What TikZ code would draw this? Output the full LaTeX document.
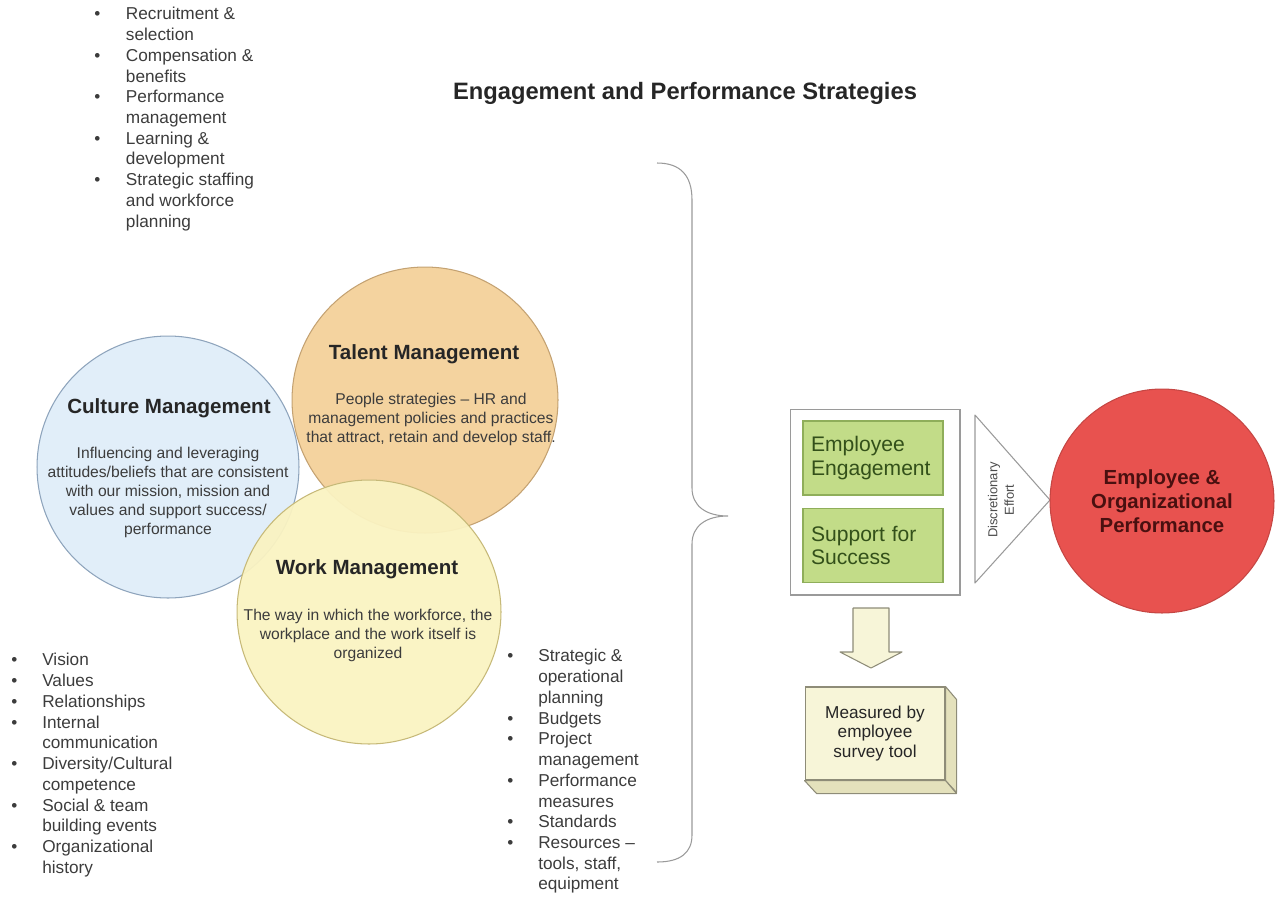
\documentclass[tikz,border=0pt]{standalone}
\usepackage{fontspec}
\setmainfont{Liberation Sans}
\usetikzlibrary{positioning,calc}
\definecolor{culturefill}{HTML}{E1EEF9}
\definecolor{culturedraw}{HTML}{8EA4BC}
\definecolor{talentfill}{HTML}{F4D39F}
\definecolor{talentdraw}{HTML}{C4A272}
\definecolor{workfill}{HTML}{FAF3C2}
\definecolor{workdraw}{HTML}{C6B978}
\definecolor{perffill}{HTML}{E8524F}
\definecolor{perftext}{HTML}{4A1010}
\definecolor{greenfill}{HTML}{C2DC88}
\definecolor{greendraw}{HTML}{8FAE5A}
\definecolor{greentext}{HTML}{33501A}
\definecolor{cubefill}{HTML}{F7F5D8}
\definecolor{cubeshade}{HTML}{E4E1BC}
\definecolor{cubedraw}{HTML}{8E8C78}
\definecolor{linegray}{HTML}{9A9A9A}
\definecolor{textgray}{HTML}{3C3C3C}
\tikzset{
  circ/.style={circle, line width=0.6pt, inner sep=0pt},
  circtitle/.style={font=\fontsize{11.7}{14}\selectfont\bfseries, text=black!85, inner sep=0pt},
  circbody/.style={font=\fontsize{8.9}{10.8}\selectfont, text=textgray, align=center, inner sep=0pt},
  bullets/.style={anchor=north west, inner sep=0pt, text=textgray, font=\fontsize{9.8}{11.8}\selectfont},
  greenbox/.style={draw=greendraw, fill=greenfill, line width=0.8pt, minimum width=2.8cm,
    minimum height=1.48cm, text width=2.48cm, inner xsep=0.16cm, align=left, text=greentext,
    font=\fontsize{12}{13.6}\selectfont},
  outerbox/.style={draw=linegray, fill=white, line width=0.6pt, minimum width=3.4cm, minimum height=3.72cm},
  cubefront/.style={draw=cubedraw, fill=cubefill, line width=0.6pt, minimum width=2.8cm,
    minimum height=1.86cm, align=center, text=black!85, font=\fontsize{9.8}{11.3}\selectfont},
  cubeside/.style={draw=cubedraw, fill=cubeshade, line width=0.6pt, line join=round},
  thinline/.style={draw=linegray, line width=0.6pt}
}
\begin{document}
\begin{tikzpicture}[x=0.02cm, y=-0.02cm]
    \useasboundingbox (0,0) rectangle (1280,896);

    \node[font=\fontsize{13.5}{16}\selectfont\bfseries, text=black!85] (title) at (685,93)
      {Engagement and Performance Strategies};

    % the three overlapping circles
    \node[circ, draw=talentdraw, fill=talentfill, minimum size=5.32cm] (talent) at (425,400) {};
    \node[circ, draw=culturedraw, fill=culturefill, minimum size=5.24cm] (culture) at (168,467) {};
    \node[circ, draw=workdraw, fill=workfill, fill opacity=0.95, minimum size=5.28cm] (work) at (369,612) {};

    \node[circtitle] (talenttitle) at (424,354) {Talent Management};
    \node[circbody]  (talentbody)  at (431,419)
      {People strategies – HR and\\management policies and practices\\that attract, retain and develop staff.};
    \node[circtitle] (culturetitle) at (169,408) {Culture Management};
    \node[circbody]  (culturebody)  at (168,492)
      {Influencing and leveraging\\attitudes/beliefs that are consistent\\with our mission, mission and\\values and support success/\\performance};
    \node[circtitle] (worktitle) at (367,569) {Work Management};
    \node[circbody]  (workbody)  at (368,635)
      {The way in which the workforce, the\\workplace and the work itself is\\organized};

    % bullet lists
    \node[bullets] (talentlist) at (94,5) {\begin{tabular}{@{}p{18pt}@{}l@{}}
      \textbullet & Recruitment \& \\ & selection \\
      \textbullet & Compensation \& \\ & benefits \\
      \textbullet & Performance \\ & management \\
      \textbullet & Learning \& \\ & development \\
      \textbullet & Strategic staffing \\ & and workforce \\ & planning
    \end{tabular}};
    \node[bullets] (culturelist) at (11,651) {\begin{tabular}{@{}p{17.6pt}@{}l@{}}
      \textbullet & Vision \\
      \textbullet & Values \\
      \textbullet & Relationships \\
      \textbullet & Internal \\ & communication \\
      \textbullet & Diversity/Cultural \\ & competence \\
      \textbullet & Social \& team \\ & building events \\
      \textbullet & Organizational \\ & history
    \end{tabular}};
    \node[bullets] (worklist) at (507,647) {\begin{tabular}{@{}p{17.6pt}@{}l@{}}
      \textbullet & Strategic \& \\ & operational \\ & planning \\
      \textbullet & Budgets \\
      \textbullet & Project \\ & management \\
      \textbullet & Performance \\ & measures \\
      \textbullet & Standards \\
      \textbullet & Resources – \\ & tools, staff, \\ & equipment
    \end{tabular}};

    % brace
    \coordinate (bracetop) at (657,163);
    \coordinate (bracetip) at (728,516);
    \coordinate (bracebot) at (657,862);
    \draw[thinline] (bracetop) .. controls (680,163) and (692,175) .. (692,200) -- (692,488)
      .. controls (692,506) and (706,516) .. (bracetip)
      .. controls (706,516) and (692,526) .. (692,544) -- (692,835)
      .. controls (692,853) and (680,862) .. (bracebot);

    % engagement box
    \node[outerbox] (supportbox) at (875,502) {};
    \node[greenbox] (engage)  at (873,458)   {Employee\\Engagement};
    \node[greenbox] (success) at (873,545.5) {Support for\\Success};

    \coordinate (tritop) at (975,415);
    \coordinate (tritip) at (1050,500);
    \coordinate (tribot) at (975,583);
    \draw[thinline, fill=white, line join=round] (tritop) -- (tritip) -- (tribot) -- cycle;
    \node[rotate=90, align=center, inner sep=0pt, text=black!70,
      font=\fontsize{7.4}{9.4}\selectfont] (effort) at (1001,500) {Discretionary\\Effort};

    \node[circ, draw=perffill!85!black, fill=perffill, minimum size=4.48cm, align=center,
      text=perftext, font=\fontsize{11.6}{13.6}\selectfont\bfseries] (perf) at (1162,501)
      {Employee \&\\Organizational\\Performance};

    % block arrow down to the survey box
    \draw[cubeside, fill=cubefill] (853,608) -- (889,608) -- (889,652) -- (902,652) -- (871,668)
      -- (840,652) -- (853,652) -- cycle;

    \node[cubefront] (survey) at (875,733.5) {Measured by\\employee\\survey tool};
    \draw[cubeside] (survey.north east) -- ++(11,13) -- ++(0,93) -- (survey.south east) -- cycle;
    \draw[cubeside] (survey.south west) -- (survey.south east) -- ++(11,13) -- ++(-140,0) -- cycle;
\end{tikzpicture}
\end{document}
